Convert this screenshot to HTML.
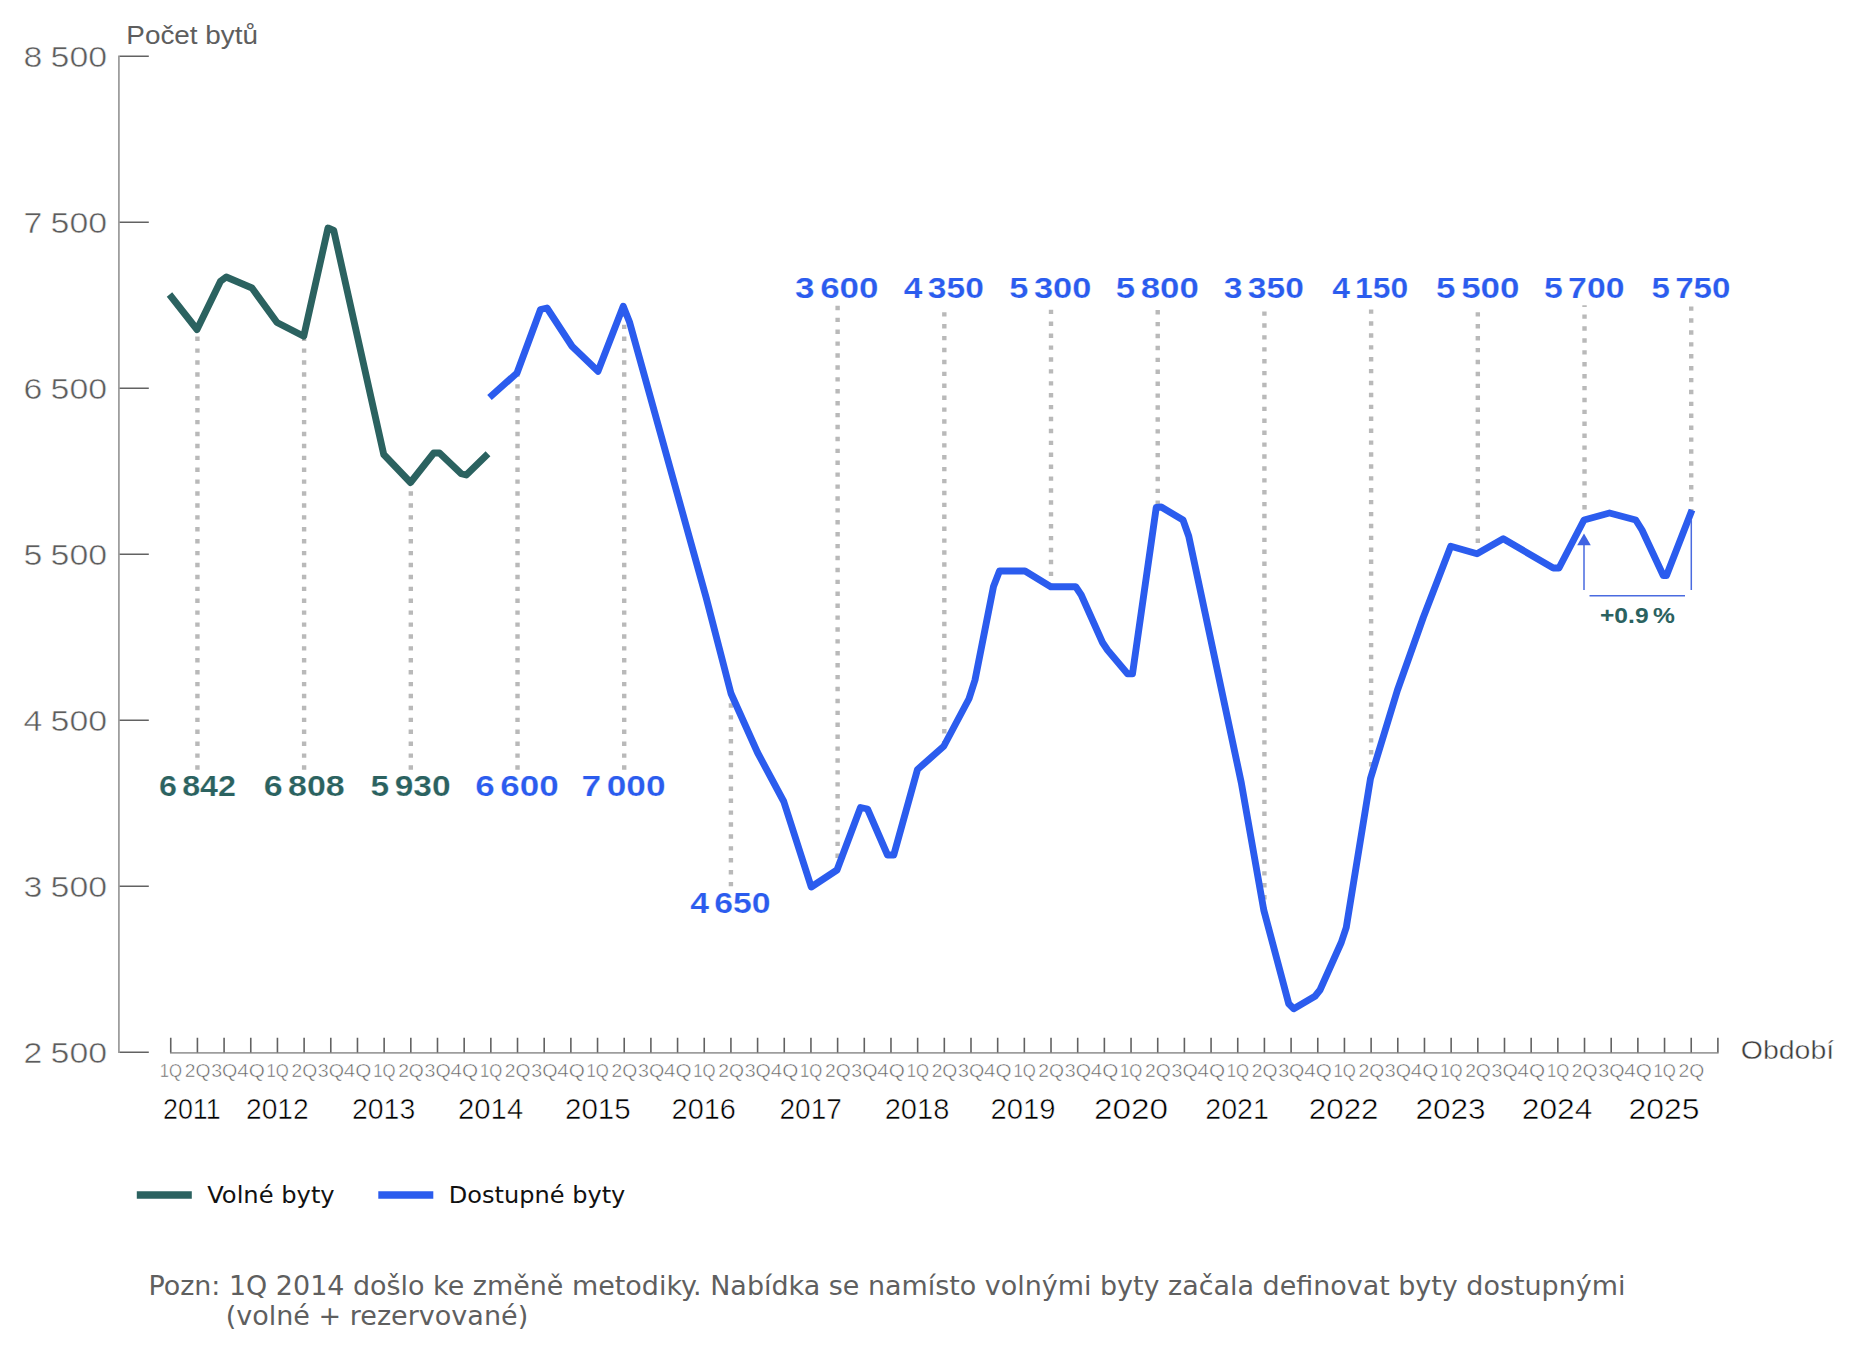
<!DOCTYPE html>
<html lang="cs"><head><meta charset="utf-8"><title>Počet bytů</title>
<style>html,body{margin:0;padding:0;background:#fff}body{width:1856px;height:1353px;overflow:hidden}svg{display:block}text{font-family:"Liberation Sans",sans-serif}.dj{font-family:"DejaVu Sans","Liberation Sans",sans-serif}.b{font-weight:bold}</style></head><body>
<svg width="1856" height="1353" viewBox="0 0 1856 1353">
<rect width="1856" height="1353" fill="#ffffff"/>
<path d="M197.42 769.70V332.00" stroke="#b9b9b9" stroke-width="4.4" stroke-dasharray="4.4 7.51" fill="none"/>
<path d="M304.12 769.70V339.00" stroke="#b9b9b9" stroke-width="4.4" stroke-dasharray="4.4 7.51" fill="none"/>
<path d="M410.82 769.70V485.00" stroke="#b9b9b9" stroke-width="4.4" stroke-dasharray="4.4 7.51" fill="none"/>
<path d="M517.52 769.70V375.00" stroke="#b9b9b9" stroke-width="4.4" stroke-dasharray="4.4 7.51" fill="none"/>
<path d="M624.22 769.70V309.00" stroke="#b9b9b9" stroke-width="4.4" stroke-dasharray="4.4 7.51" fill="none"/>
<path d="M730.92 886.30V697.00" stroke="#b9b9b9" stroke-width="4.4" stroke-dasharray="4.4 7.51" fill="none"/>
<path d="M837.62 869.90V305.30" stroke="#b9b9b9" stroke-width="4.4" stroke-dasharray="4.4 7.51" fill="none"/>
<path d="M944.32 745.30V305.30" stroke="#b9b9b9" stroke-width="4.4" stroke-dasharray="4.4 7.51" fill="none"/>
<path d="M1051.01 588.00V305.30" stroke="#b9b9b9" stroke-width="4.4" stroke-dasharray="4.4 7.51" fill="none"/>
<path d="M1157.72 505.00V305.30" stroke="#b9b9b9" stroke-width="4.4" stroke-dasharray="4.4 7.51" fill="none"/>
<path d="M1264.41 911.30V305.30" stroke="#b9b9b9" stroke-width="4.4" stroke-dasharray="4.4 7.51" fill="none"/>
<path d="M1371.12 778.30V305.30" stroke="#b9b9b9" stroke-width="4.4" stroke-dasharray="4.4 7.51" fill="none"/>
<path d="M1477.82 554.80V305.30" stroke="#b9b9b9" stroke-width="4.4" stroke-dasharray="4.4 7.51" fill="none"/>
<path d="M1584.52 521.30V305.30" stroke="#b9b9b9" stroke-width="4.4" stroke-dasharray="4.4 7.51" fill="none"/>
<path d="M1691.22 513.30V305.30" stroke="#b9b9b9" stroke-width="4.4" stroke-dasharray="4.4 7.51" fill="none"/>
<path d="M118.9 55.5V1053" stroke="#9e9e9e" stroke-width="1.8" fill="none"/>
<path d="M170 1052.9H1718.6" stroke="#9e9e9e" stroke-width="1.8" fill="none"/>
<path d="M119.6 1052.30H148.8 M119.6 886.30H148.8 M119.6 720.30H148.8 M119.6 554.30H148.8 M119.6 388.30H148.8 M119.6 222.30H148.8 M119.6 56.30H148.8" stroke="#626262" stroke-width="1.6" fill="none"/>
<path d="M170.74 1037.8V1052.6 M197.42 1037.8V1052.6 M224.09 1037.8V1052.6 M250.77 1037.8V1052.6 M277.44 1037.8V1052.6 M304.12 1037.8V1052.6 M330.79 1037.8V1052.6 M357.47 1037.8V1052.6 M384.14 1037.8V1052.6 M410.82 1037.8V1052.6 M437.49 1037.8V1052.6 M464.17 1037.8V1052.6 M490.84 1037.8V1052.6 M517.52 1037.8V1052.6 M544.19 1037.8V1052.6 M570.87 1037.8V1052.6 M597.54 1037.8V1052.6 M624.22 1037.8V1052.6 M650.89 1037.8V1052.6 M677.57 1037.8V1052.6 M704.24 1037.8V1052.6 M730.92 1037.8V1052.6 M757.59 1037.8V1052.6 M784.26 1037.8V1052.6 M810.94 1037.8V1052.6 M837.62 1037.8V1052.6 M864.29 1037.8V1052.6 M890.97 1037.8V1052.6 M917.64 1037.8V1052.6 M944.32 1037.8V1052.6 M970.99 1037.8V1052.6 M997.67 1037.8V1052.6 M1024.34 1037.8V1052.6 M1051.01 1037.8V1052.6 M1077.69 1037.8V1052.6 M1104.37 1037.8V1052.6 M1131.04 1037.8V1052.6 M1157.72 1037.8V1052.6 M1184.39 1037.8V1052.6 M1211.07 1037.8V1052.6 M1237.74 1037.8V1052.6 M1264.41 1037.8V1052.6 M1291.09 1037.8V1052.6 M1317.77 1037.8V1052.6 M1344.44 1037.8V1052.6 M1371.12 1037.8V1052.6 M1397.79 1037.8V1052.6 M1424.47 1037.8V1052.6 M1451.14 1037.8V1052.6 M1477.82 1037.8V1052.6 M1504.49 1037.8V1052.6 M1531.16 1037.8V1052.6 M1557.84 1037.8V1052.6 M1584.52 1037.8V1052.6 M1611.19 1037.8V1052.6 M1637.87 1037.8V1052.6 M1664.54 1037.8V1052.6 M1691.22 1037.8V1052.6 M1717.89 1037.8V1052.6" stroke="#626262" stroke-width="1.6" fill="none"/>
<text x="23.5" y="1063.00" font-size="30.3" fill="#5c5c5c" stroke="#fff" stroke-width="0.5" word-spacing="-1" textLength="83.5" lengthAdjust="spacingAndGlyphs">2 500</text>
<text x="23.5" y="897.00" font-size="30.3" fill="#5c5c5c" stroke="#fff" stroke-width="0.5" word-spacing="-1" textLength="83.5" lengthAdjust="spacingAndGlyphs">3 500</text>
<text x="23.5" y="731.00" font-size="30.3" fill="#5c5c5c" stroke="#fff" stroke-width="0.5" word-spacing="-1" textLength="83.5" lengthAdjust="spacingAndGlyphs">4 500</text>
<text x="23.5" y="565.00" font-size="30.3" fill="#5c5c5c" stroke="#fff" stroke-width="0.5" word-spacing="-1" textLength="83.5" lengthAdjust="spacingAndGlyphs">5 500</text>
<text x="23.5" y="399.00" font-size="30.3" fill="#5c5c5c" stroke="#fff" stroke-width="0.5" word-spacing="-1" textLength="83.5" lengthAdjust="spacingAndGlyphs">6 500</text>
<text x="23.5" y="233.00" font-size="30.3" fill="#5c5c5c" stroke="#fff" stroke-width="0.5" word-spacing="-1" textLength="83.5" lengthAdjust="spacingAndGlyphs">7 500</text>
<text x="23.5" y="67.00" font-size="30.3" fill="#5c5c5c" stroke="#fff" stroke-width="0.5" word-spacing="-1" textLength="83.5" lengthAdjust="spacingAndGlyphs">8 500</text>
<text x="126.3" y="43.5" font-size="26.5" fill="#5e5e5e" textLength="131.7" lengthAdjust="spacingAndGlyphs">Počet bytů</text>
<text x="1740.8" y="1058.7" font-size="25.3" fill="#3c3c3c" stroke="#fff" stroke-width="0.4" textLength="93.4" lengthAdjust="spacingAndGlyphs">Období</text>
<text x="159.79" y="1076.7" font-size="18.2" fill="#5e5e5e" stroke="#fff" stroke-width="0.5" textLength="22.3" lengthAdjust="spacingAndGlyphs">1Q</text>
<text x="184.77" y="1076.7" font-size="18.2" fill="#5e5e5e" stroke="#fff" stroke-width="0.5" textLength="25.7" lengthAdjust="spacingAndGlyphs">2Q</text>
<text x="211.19" y="1076.7" font-size="18.2" fill="#5e5e5e" stroke="#fff" stroke-width="0.5" textLength="26.2" lengthAdjust="spacingAndGlyphs">3Q</text>
<text x="237.16" y="1076.7" font-size="18.2" fill="#5e5e5e" stroke="#fff" stroke-width="0.5" textLength="27.6" lengthAdjust="spacingAndGlyphs">4Q</text>
<text x="266.49" y="1076.7" font-size="18.2" fill="#5e5e5e" stroke="#fff" stroke-width="0.5" textLength="22.3" lengthAdjust="spacingAndGlyphs">1Q</text>
<text x="291.46" y="1076.7" font-size="18.2" fill="#5e5e5e" stroke="#fff" stroke-width="0.5" textLength="25.7" lengthAdjust="spacingAndGlyphs">2Q</text>
<text x="317.89" y="1076.7" font-size="18.2" fill="#5e5e5e" stroke="#fff" stroke-width="0.5" textLength="26.2" lengthAdjust="spacingAndGlyphs">3Q</text>
<text x="343.87" y="1076.7" font-size="18.2" fill="#5e5e5e" stroke="#fff" stroke-width="0.5" textLength="27.6" lengthAdjust="spacingAndGlyphs">4Q</text>
<text x="373.19" y="1076.7" font-size="18.2" fill="#5e5e5e" stroke="#fff" stroke-width="0.5" textLength="22.3" lengthAdjust="spacingAndGlyphs">1Q</text>
<text x="398.17" y="1076.7" font-size="18.2" fill="#5e5e5e" stroke="#fff" stroke-width="0.5" textLength="25.7" lengthAdjust="spacingAndGlyphs">2Q</text>
<text x="424.59" y="1076.7" font-size="18.2" fill="#5e5e5e" stroke="#fff" stroke-width="0.5" textLength="26.2" lengthAdjust="spacingAndGlyphs">3Q</text>
<text x="450.56" y="1076.7" font-size="18.2" fill="#5e5e5e" stroke="#fff" stroke-width="0.5" textLength="27.6" lengthAdjust="spacingAndGlyphs">4Q</text>
<text x="479.89" y="1076.7" font-size="18.2" fill="#5e5e5e" stroke="#fff" stroke-width="0.5" textLength="22.3" lengthAdjust="spacingAndGlyphs">1Q</text>
<text x="504.87" y="1076.7" font-size="18.2" fill="#5e5e5e" stroke="#fff" stroke-width="0.5" textLength="25.7" lengthAdjust="spacingAndGlyphs">2Q</text>
<text x="531.29" y="1076.7" font-size="18.2" fill="#5e5e5e" stroke="#fff" stroke-width="0.5" textLength="26.2" lengthAdjust="spacingAndGlyphs">3Q</text>
<text x="557.27" y="1076.7" font-size="18.2" fill="#5e5e5e" stroke="#fff" stroke-width="0.5" textLength="27.6" lengthAdjust="spacingAndGlyphs">4Q</text>
<text x="586.59" y="1076.7" font-size="18.2" fill="#5e5e5e" stroke="#fff" stroke-width="0.5" textLength="22.3" lengthAdjust="spacingAndGlyphs">1Q</text>
<text x="611.57" y="1076.7" font-size="18.2" fill="#5e5e5e" stroke="#fff" stroke-width="0.5" textLength="25.7" lengthAdjust="spacingAndGlyphs">2Q</text>
<text x="637.99" y="1076.7" font-size="18.2" fill="#5e5e5e" stroke="#fff" stroke-width="0.5" textLength="26.2" lengthAdjust="spacingAndGlyphs">3Q</text>
<text x="663.97" y="1076.7" font-size="18.2" fill="#5e5e5e" stroke="#fff" stroke-width="0.5" textLength="27.6" lengthAdjust="spacingAndGlyphs">4Q</text>
<text x="693.29" y="1076.7" font-size="18.2" fill="#5e5e5e" stroke="#fff" stroke-width="0.5" textLength="22.3" lengthAdjust="spacingAndGlyphs">1Q</text>
<text x="718.27" y="1076.7" font-size="18.2" fill="#5e5e5e" stroke="#fff" stroke-width="0.5" textLength="25.7" lengthAdjust="spacingAndGlyphs">2Q</text>
<text x="744.69" y="1076.7" font-size="18.2" fill="#5e5e5e" stroke="#fff" stroke-width="0.5" textLength="26.2" lengthAdjust="spacingAndGlyphs">3Q</text>
<text x="770.67" y="1076.7" font-size="18.2" fill="#5e5e5e" stroke="#fff" stroke-width="0.5" textLength="27.6" lengthAdjust="spacingAndGlyphs">4Q</text>
<text x="799.99" y="1076.7" font-size="18.2" fill="#5e5e5e" stroke="#fff" stroke-width="0.5" textLength="22.3" lengthAdjust="spacingAndGlyphs">1Q</text>
<text x="824.97" y="1076.7" font-size="18.2" fill="#5e5e5e" stroke="#fff" stroke-width="0.5" textLength="25.7" lengthAdjust="spacingAndGlyphs">2Q</text>
<text x="851.39" y="1076.7" font-size="18.2" fill="#5e5e5e" stroke="#fff" stroke-width="0.5" textLength="26.2" lengthAdjust="spacingAndGlyphs">3Q</text>
<text x="877.37" y="1076.7" font-size="18.2" fill="#5e5e5e" stroke="#fff" stroke-width="0.5" textLength="27.6" lengthAdjust="spacingAndGlyphs">4Q</text>
<text x="906.69" y="1076.7" font-size="18.2" fill="#5e5e5e" stroke="#fff" stroke-width="0.5" textLength="22.3" lengthAdjust="spacingAndGlyphs">1Q</text>
<text x="931.67" y="1076.7" font-size="18.2" fill="#5e5e5e" stroke="#fff" stroke-width="0.5" textLength="25.7" lengthAdjust="spacingAndGlyphs">2Q</text>
<text x="958.09" y="1076.7" font-size="18.2" fill="#5e5e5e" stroke="#fff" stroke-width="0.5" textLength="26.2" lengthAdjust="spacingAndGlyphs">3Q</text>
<text x="984.07" y="1076.7" font-size="18.2" fill="#5e5e5e" stroke="#fff" stroke-width="0.5" textLength="27.6" lengthAdjust="spacingAndGlyphs">4Q</text>
<text x="1013.39" y="1076.7" font-size="18.2" fill="#5e5e5e" stroke="#fff" stroke-width="0.5" textLength="22.3" lengthAdjust="spacingAndGlyphs">1Q</text>
<text x="1038.37" y="1076.7" font-size="18.2" fill="#5e5e5e" stroke="#fff" stroke-width="0.5" textLength="25.7" lengthAdjust="spacingAndGlyphs">2Q</text>
<text x="1064.79" y="1076.7" font-size="18.2" fill="#5e5e5e" stroke="#fff" stroke-width="0.5" textLength="26.2" lengthAdjust="spacingAndGlyphs">3Q</text>
<text x="1090.77" y="1076.7" font-size="18.2" fill="#5e5e5e" stroke="#fff" stroke-width="0.5" textLength="27.6" lengthAdjust="spacingAndGlyphs">4Q</text>
<text x="1120.09" y="1076.7" font-size="18.2" fill="#5e5e5e" stroke="#fff" stroke-width="0.5" textLength="22.3" lengthAdjust="spacingAndGlyphs">1Q</text>
<text x="1145.07" y="1076.7" font-size="18.2" fill="#5e5e5e" stroke="#fff" stroke-width="0.5" textLength="25.7" lengthAdjust="spacingAndGlyphs">2Q</text>
<text x="1171.49" y="1076.7" font-size="18.2" fill="#5e5e5e" stroke="#fff" stroke-width="0.5" textLength="26.2" lengthAdjust="spacingAndGlyphs">3Q</text>
<text x="1197.47" y="1076.7" font-size="18.2" fill="#5e5e5e" stroke="#fff" stroke-width="0.5" textLength="27.6" lengthAdjust="spacingAndGlyphs">4Q</text>
<text x="1226.79" y="1076.7" font-size="18.2" fill="#5e5e5e" stroke="#fff" stroke-width="0.5" textLength="22.3" lengthAdjust="spacingAndGlyphs">1Q</text>
<text x="1251.77" y="1076.7" font-size="18.2" fill="#5e5e5e" stroke="#fff" stroke-width="0.5" textLength="25.7" lengthAdjust="spacingAndGlyphs">2Q</text>
<text x="1278.19" y="1076.7" font-size="18.2" fill="#5e5e5e" stroke="#fff" stroke-width="0.5" textLength="26.2" lengthAdjust="spacingAndGlyphs">3Q</text>
<text x="1304.17" y="1076.7" font-size="18.2" fill="#5e5e5e" stroke="#fff" stroke-width="0.5" textLength="27.6" lengthAdjust="spacingAndGlyphs">4Q</text>
<text x="1333.49" y="1076.7" font-size="18.2" fill="#5e5e5e" stroke="#fff" stroke-width="0.5" textLength="22.3" lengthAdjust="spacingAndGlyphs">1Q</text>
<text x="1358.47" y="1076.7" font-size="18.2" fill="#5e5e5e" stroke="#fff" stroke-width="0.5" textLength="25.7" lengthAdjust="spacingAndGlyphs">2Q</text>
<text x="1384.89" y="1076.7" font-size="18.2" fill="#5e5e5e" stroke="#fff" stroke-width="0.5" textLength="26.2" lengthAdjust="spacingAndGlyphs">3Q</text>
<text x="1410.87" y="1076.7" font-size="18.2" fill="#5e5e5e" stroke="#fff" stroke-width="0.5" textLength="27.6" lengthAdjust="spacingAndGlyphs">4Q</text>
<text x="1440.19" y="1076.7" font-size="18.2" fill="#5e5e5e" stroke="#fff" stroke-width="0.5" textLength="22.3" lengthAdjust="spacingAndGlyphs">1Q</text>
<text x="1465.17" y="1076.7" font-size="18.2" fill="#5e5e5e" stroke="#fff" stroke-width="0.5" textLength="25.7" lengthAdjust="spacingAndGlyphs">2Q</text>
<text x="1491.59" y="1076.7" font-size="18.2" fill="#5e5e5e" stroke="#fff" stroke-width="0.5" textLength="26.2" lengthAdjust="spacingAndGlyphs">3Q</text>
<text x="1517.57" y="1076.7" font-size="18.2" fill="#5e5e5e" stroke="#fff" stroke-width="0.5" textLength="27.6" lengthAdjust="spacingAndGlyphs">4Q</text>
<text x="1546.89" y="1076.7" font-size="18.2" fill="#5e5e5e" stroke="#fff" stroke-width="0.5" textLength="22.3" lengthAdjust="spacingAndGlyphs">1Q</text>
<text x="1571.87" y="1076.7" font-size="18.2" fill="#5e5e5e" stroke="#fff" stroke-width="0.5" textLength="25.7" lengthAdjust="spacingAndGlyphs">2Q</text>
<text x="1598.29" y="1076.7" font-size="18.2" fill="#5e5e5e" stroke="#fff" stroke-width="0.5" textLength="26.2" lengthAdjust="spacingAndGlyphs">3Q</text>
<text x="1624.27" y="1076.7" font-size="18.2" fill="#5e5e5e" stroke="#fff" stroke-width="0.5" textLength="27.6" lengthAdjust="spacingAndGlyphs">4Q</text>
<text x="1653.59" y="1076.7" font-size="18.2" fill="#5e5e5e" stroke="#fff" stroke-width="0.5" textLength="22.3" lengthAdjust="spacingAndGlyphs">1Q</text>
<text x="1678.57" y="1076.7" font-size="18.2" fill="#5e5e5e" stroke="#fff" stroke-width="0.5" textLength="25.7" lengthAdjust="spacingAndGlyphs">2Q</text>
<text x="163.00" y="1119" font-size="30" fill="#000" stroke="#fff" stroke-width="0.55" textLength="57.70" lengthAdjust="spacingAndGlyphs">2011</text>
<text x="246.00" y="1119" font-size="30" fill="#000" stroke="#fff" stroke-width="0.55" textLength="62.70" lengthAdjust="spacingAndGlyphs">2012</text>
<text x="352.00" y="1119" font-size="30" fill="#000" stroke="#fff" stroke-width="0.55" textLength="63.20" lengthAdjust="spacingAndGlyphs">2013</text>
<text x="458.00" y="1119" font-size="30" fill="#000" stroke="#fff" stroke-width="0.55" textLength="65.20" lengthAdjust="spacingAndGlyphs">2014</text>
<text x="565.00" y="1119" font-size="30" fill="#000" stroke="#fff" stroke-width="0.55" textLength="65.70" lengthAdjust="spacingAndGlyphs">2015</text>
<text x="671.60" y="1119" font-size="30" fill="#000" stroke="#fff" stroke-width="0.55" textLength="64.30" lengthAdjust="spacingAndGlyphs">2016</text>
<text x="779.50" y="1119" font-size="30" fill="#000" stroke="#fff" stroke-width="0.55" textLength="62.30" lengthAdjust="spacingAndGlyphs">2017</text>
<text x="884.70" y="1119" font-size="30" fill="#000" stroke="#fff" stroke-width="0.55" textLength="64.70" lengthAdjust="spacingAndGlyphs">2018</text>
<text x="990.60" y="1119" font-size="30" fill="#000" stroke="#fff" stroke-width="0.55" textLength="65.00" lengthAdjust="spacingAndGlyphs">2019</text>
<text x="1094.00" y="1119" font-size="30" fill="#000" stroke="#fff" stroke-width="0.55" textLength="74.10" lengthAdjust="spacingAndGlyphs">2020</text>
<text x="1205.30" y="1119" font-size="30" fill="#000" stroke="#fff" stroke-width="0.55" textLength="63.60" lengthAdjust="spacingAndGlyphs">2021</text>
<text x="1308.80" y="1119" font-size="30" fill="#000" stroke="#fff" stroke-width="0.55" textLength="69.70" lengthAdjust="spacingAndGlyphs">2022</text>
<text x="1415.40" y="1119" font-size="30" fill="#000" stroke="#fff" stroke-width="0.55" textLength="70.20" lengthAdjust="spacingAndGlyphs">2023</text>
<text x="1521.80" y="1119" font-size="30" fill="#000" stroke="#fff" stroke-width="0.55" textLength="70.60" lengthAdjust="spacingAndGlyphs">2024</text>
<text x="1628.50" y="1119" font-size="30" fill="#000" stroke="#fff" stroke-width="0.55" textLength="70.95" lengthAdjust="spacingAndGlyphs">2025</text>
<polyline points="169.50,294.50 197.00,329.50 220.50,281.25 226.25,277.00 252.00,288.00 277.00,322.50 303.75,336.25 328.00,228.00 333.75,230.50 383.75,454.50 410.50,482.50 433.75,453.00 439.50,453.00 461.25,473.75 466.25,475.00 488.00,453.75" fill="none" stroke="#2b6260" stroke-width="6.9" stroke-linejoin="round"/>
<polyline points="489.50,397.50 517.00,373.00 540.50,309.50 547.00,308.00 572.00,346.25 598.00,371.25 623.25,306.25 629.50,322.00 706.25,598.00 731.00,693.50 757.50,752.50 783.75,801.50 811.25,887.00 837.00,870.00 860.50,807.50 867.50,809.00 887.50,855.00 893.75,855.00 917.50,769.50 943.75,746.25 969.00,698.75 975.00,680.00 993.50,586.50 999.50,571.00 1025.00,571.00 1050.75,586.75 1075.75,586.75 1081.25,595.00 1102.50,642.50 1107.50,650.00 1127.50,673.75 1132.50,673.75 1156.25,507.50 1161.25,507.00 1183.00,520.00 1188.75,536.25 1241.25,782.50 1263.75,910.00 1288.75,1003.75 1293.75,1008.75 1315.00,996.25 1320.00,990.00 1341.25,942.50 1346.25,927.50 1370.50,778.50 1397.50,690.00 1423.25,617.50 1450.75,546.25 1477.00,553.75 1503.25,538.75 1553.25,568.00 1559.00,568.00 1584.00,520.00 1609.50,513.00 1635.75,520.00 1642.00,530.00 1663.25,575.50 1666.50,575.50 1692.00,510.00" fill="none" stroke="#2b5cee" stroke-width="6.9" stroke-linejoin="round"/>
<text class="b" x="159.00" y="796.3" font-size="29" fill="#2b6260" stroke="#fff" stroke-width="0.2" word-spacing="-3.4" textLength="77" lengthAdjust="spacingAndGlyphs">6 842</text>
<text class="b" x="263.75" y="796.3" font-size="29" fill="#2b6260" stroke="#fff" stroke-width="0.2" word-spacing="-3.4" textLength="81" lengthAdjust="spacingAndGlyphs">6 808</text>
<text class="b" x="370.60" y="796.3" font-size="29" fill="#2b6260" stroke="#fff" stroke-width="0.2" word-spacing="-3.4" textLength="80" lengthAdjust="spacingAndGlyphs">5 930</text>
<text class="b" x="475.25" y="796.3" font-size="29" fill="#2b5cee" stroke="#fff" stroke-width="0.2" word-spacing="-3.4" textLength="83.5" lengthAdjust="spacingAndGlyphs">6 600</text>
<text class="b" x="581.50" y="796.3" font-size="29" fill="#2b5cee" stroke="#fff" stroke-width="0.2" word-spacing="-3.4" textLength="84" lengthAdjust="spacingAndGlyphs">7 000</text>
<text class="b" x="690.15" y="912.5" font-size="29" fill="#2b5cee" stroke="#fff" stroke-width="0.2" word-spacing="-3.4" textLength="80.5" lengthAdjust="spacingAndGlyphs">4 650</text>
<text class="b" x="795.05" y="297.5" font-size="29" fill="#2b5cee" stroke="#fff" stroke-width="0.2" word-spacing="-3.4" textLength="83.5" lengthAdjust="spacingAndGlyphs">3 600</text>
<text class="b" x="903.80" y="297.5" font-size="29" fill="#2b5cee" stroke="#fff" stroke-width="0.2" word-spacing="-3.4" textLength="80" lengthAdjust="spacingAndGlyphs">4 350</text>
<text class="b" x="1009.30" y="297.5" font-size="29" fill="#2b5cee" stroke="#fff" stroke-width="0.2" word-spacing="-3.4" textLength="82" lengthAdjust="spacingAndGlyphs">5 300</text>
<text class="b" x="1115.80" y="297.5" font-size="29" fill="#2b5cee" stroke="#fff" stroke-width="0.2" word-spacing="-3.4" textLength="83" lengthAdjust="spacingAndGlyphs">5 800</text>
<text class="b" x="1223.80" y="297.5" font-size="29" fill="#2b5cee" stroke="#fff" stroke-width="0.2" word-spacing="-3.4" textLength="80" lengthAdjust="spacingAndGlyphs">3 350</text>
<text class="b" x="1332.20" y="297.5" font-size="29" fill="#2b5cee" stroke="#fff" stroke-width="0.2" word-spacing="-3.4" textLength="76" lengthAdjust="spacingAndGlyphs">4 150</text>
<text class="b" x="1436.05" y="297.5" font-size="29" fill="#2b5cee" stroke="#fff" stroke-width="0.2" word-spacing="-3.4" textLength="83.5" lengthAdjust="spacingAndGlyphs">5 500</text>
<text class="b" x="1543.95" y="297.5" font-size="29" fill="#2b5cee" stroke="#fff" stroke-width="0.2" word-spacing="-3.4" textLength="80.5" lengthAdjust="spacingAndGlyphs">5 700</text>
<text class="b" x="1651.40" y="297.5" font-size="29" fill="#2b5cee" stroke="#fff" stroke-width="0.2" word-spacing="-3.4" textLength="79" lengthAdjust="spacingAndGlyphs">5 750</text>
<path d="M1584 590V540M1589.5 595.8H1685M1691.3 590V520" stroke="#4a6be0" stroke-width="1.5" fill="none"/>
<path d="M1584 533.5L1590.8 545.2H1577.2Z" fill="#3f63e2"/>
<text class="b" x="1600" y="622.5" font-size="21.6" fill="#2b6260" word-spacing="-2" textLength="75" lengthAdjust="spacingAndGlyphs">+0.9 %</text>
<path d="M136.8 1195H191.8" stroke="#2b6260" stroke-width="7.5"/>
<path d="M378.3 1195H433.3" stroke="#2b5cee" stroke-width="7.5"/>
<text class="dj" x="207.2" y="1203" font-size="23" fill="#111" textLength="127.5" lengthAdjust="spacingAndGlyphs">Volné byty</text>
<text class="dj" x="448.8" y="1203" font-size="23" fill="#111" textLength="176.5" lengthAdjust="spacingAndGlyphs">Dostupné byty</text>
<text class="dj" x="148.4" y="1294.5" font-size="26" fill="#5f5f5f" textLength="1477" lengthAdjust="spacingAndGlyphs">Pozn: 1Q 2014 došlo ke změně metodiky. Nabídka se namísto volnými byty začala definovat byty dostupnými</text>
<text class="dj" x="225.7" y="1325" font-size="26" fill="#5f5f5f" textLength="302.5" lengthAdjust="spacingAndGlyphs">(volné + rezervované)</text>
</svg></body></html>
